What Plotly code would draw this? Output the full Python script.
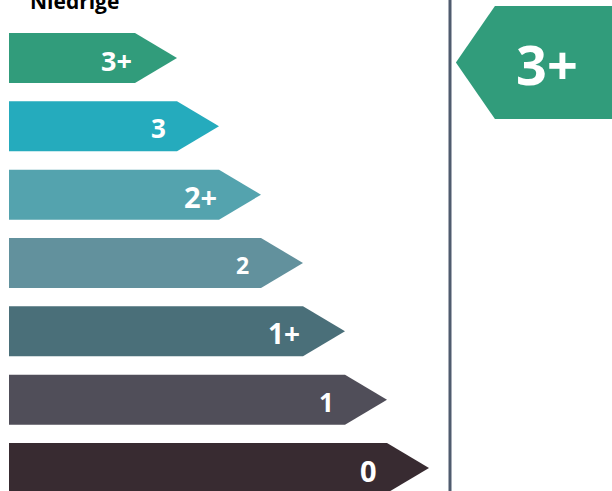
import plotly.graph_objects as go

# ---- data ----
ratings = ["3+", "3", "2+", "2", "1+", "1", "0"]
bar_values = [3, 4, 5, 6, 7, 8, 9]          # bar length (scale units)
colors = ["#319c7b", "#25abbd", "#54a3ae", "#62919d", "#4a6f79", "#504e59", "#382b31"]
label_sizes = [27, 26, 29, 23, 28, 26, 29]
selected = "3+"
title_text = "Niedrige"

# ---- layout constants (scale units) ----
bar_h = 0.732
tip = 1.0
x_range = [-9 / 42, 603 / 42]
y_range = [6.337, -0.849]
divider_x = 10.5

fig = go.Figure()

for i, (r, v, c) in enumerate(zip(ratings, bar_values, colors)):
    top, bot = i - bar_h / 2, i + bar_h / 2
    fig.add_trace(go.Scatter(
        x=[0, v, v + tip, v, 0, 0],
        y=[top, top, i, bot, bot, top],
        fill="toself", fillcolor=c, mode="lines",
        line=dict(width=0, color=c), hoverinfo="skip", showlegend=False))
    fig.add_annotation(x=v - 0.45, y=i + 0.03, text=r, showarrow=False,
                       xanchor="center", yanchor="middle",
                       font=dict(family="Open Sans", size=label_sizes[i], color="white", weight="bold"))

# selected indicator
si = ratings.index(selected)
sc = colors[si]
ctr = si + 0.066
half = 0.827
x_tip, x_sl, x_end = 10.64, 11.57, 14.6
fig.add_trace(go.Scatter(
    x=[x_tip, x_sl, x_end, x_end, x_sl, x_tip],
    y=[ctr, ctr - half, ctr - half, ctr + half, ctr + half, ctr],
    fill="toself", fillcolor=sc, mode="lines",
    line=dict(width=0, color=sc), hoverinfo="skip", showlegend=False))
fig.add_annotation(x=12.8, y=ctr + 0.02, text=selected, showarrow=False,
                   xanchor="center", yanchor="middle",
                   font=dict(family="Open Sans", size=54, color="white", weight="bold"))

# divider line
fig.add_shape(type="line", x0=divider_x, x1=divider_x, y0=0, y1=1,
              xref="x", yref="paper", line=dict(color="#4f5b6e", width=3))

# title (partially cut off at top)
fig.add_annotation(x=74.5 / 612, y=1 - 1.0 / 491, xref="paper", yref="paper",
                   text=title_text, showarrow=False,
                   xanchor="center", yanchor="middle",
                   font=dict(family="Open Sans", size=21, color="black", weight="bold"))

fig.update_layout(
    width=612, height=491,
    margin=dict(l=0, r=0, t=0, b=0),
    paper_bgcolor="white", plot_bgcolor="white",
    xaxis=dict(range=x_range, visible=False, fixedrange=True),
    yaxis=dict(range=y_range, visible=False, fixedrange=True),
)

fig.write_html("out.html", config={"displayModeBar": False},
               post_script="document.body.style.margin='0';document.body.style.overflow='hidden';")
